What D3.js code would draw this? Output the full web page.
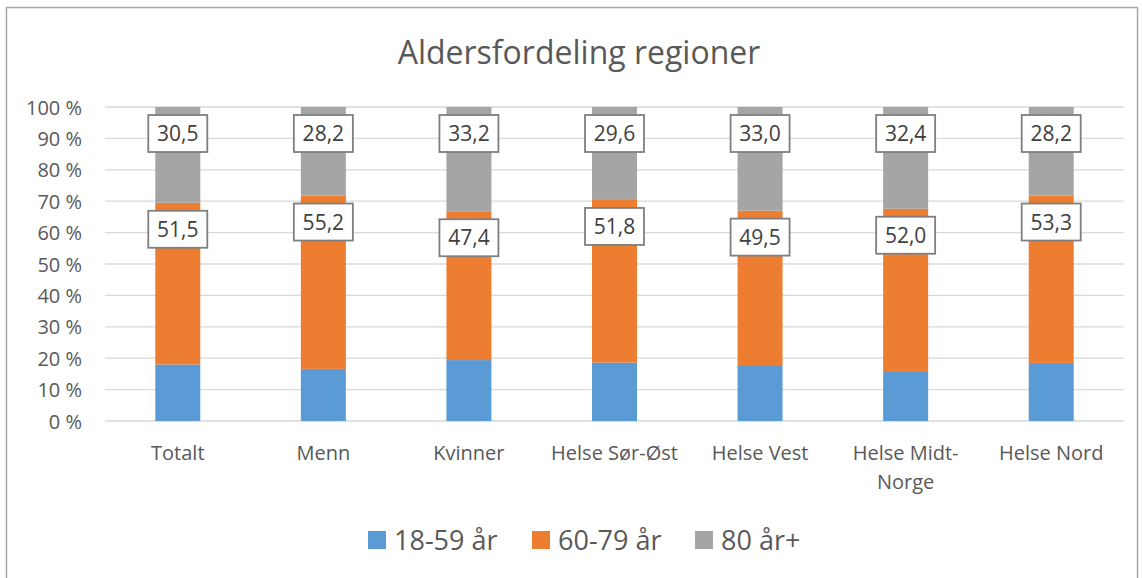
<!DOCTYPE html>
<html>
<head>
<meta charset="utf-8">
<script src="https://cdn.jsdelivr.net/npm/d3@7"></script>
<style>
  body { margin: 0; background: #fff; }
  text { font-family: "Open Sans", sans-serif; fill: #595959; }
</style>
</head>
<body>
<svg id="chart" width="1142" height="578"></svg>
<script>
// Aldersfordeling regioner - 100 % stablet søyle

var categories = ["Totalt", "Menn", "Kvinner", "Helse Sør-Øst", "Helse Vest", "Helse Midt-Norge", "Helse Nord"];
var seriesNames = ["18-59 år", "60-79 år", "80 år+"];
var young = [18.0, 16.6, 19.4, 18.6, 17.5, 15.6, 18.5];
var middle = [51.5, 55.2, 47.4, 51.8, 49.5, 52.0, 53.3];
var old = [30.5, 28.2, 33.2, 29.6, 33.0, 32.4, 28.2];
var yTicks = [0, 10, 20, 30, 40, 50, 60, 70, 80, 90, 100];
var colors = ["#5B9BD5", "#ED7D31", "#A5A5A5"];

var svg = d3.select("#chart");

// ramme
svg.append("rect")
  .attr("x", 6.5).attr("y", 7.5)
  .attr("width", 1131).attr("height", 600)
  .attr("fill", "none")
  .attr("stroke", "#a6a6a6")
  .attr("stroke-width", 1.5);

svg.append("text")
  .attr("x", 579).attr("y", 64)
  .attr("text-anchor", "middle")
  .style("font-size", "32px")
  .text("Aldersfordeling regioner");

var x = d3.scaleBand().domain(categories).range([105, 1124]);
var y = d3.scaleLinear().domain([0, 100]).range([421, 107]);
var barW = 45;

// rutenett
svg.append("g").selectAll("line")
  .data(yTicks)
  .enter().append("line")
  .attr("x1", 105).attr("x2", 1124)
  .attr("y1", function(d) { return y(d); })
  .attr("y2", function(d) { return y(d); })
  .attr("stroke", "#d9d9d9")
  .attr("stroke-width", 1.3);

// y-akse
var yAxis = svg.append("g")
  .attr("transform", "translate(88,0)")
  .call(d3.axisLeft(y).tickValues(yTicks).tickSize(0).tickPadding(6)
    .tickFormat(function(d) { return d + " %"; }));
yAxis.select(".domain").remove();
yAxis.selectAll("text").style("font-size", "20px").attr("fill", "#595959").attr("dy", "0.35em");

var table = categories.map(function(c, i) {
  return { cat: c, "18-59 år": young[i], "60-79 år": middle[i], "80 år+": old[i] };
});
var stacked = d3.stack().keys(seriesNames)(table);

var layers = svg.selectAll(".layer")
  .data(stacked)
  .enter().append("g")
  .attr("class", "layer")
  .attr("fill", function(d, i) { return colors[i]; });

layers.selectAll("rect")
  .data(function(d) { return d; })
  .enter().append("rect")
  .attr("x", function(d) { return x(d.data.cat) + x.bandwidth() / 2 - barW / 2; })
  .attr("width", barW)
  .attr("y", function(d) { return y(d[1]); })
  .attr("height", function(d) { return y(d[0]) - y(d[1]); });

// dataetiketter (innenfor ende) for 60-79 og 80+
[1, 2].forEach(function(si) {
  var g = svg.append("g");
  var lab = g.selectAll("g")
    .data(stacked[si])
    .enter().append("g")
    .attr("transform", function(d) {
      return "translate(" + (x(d.data.cat) + x.bandwidth() / 2) + "," + (y(d[1]) + 26.5) + ")";
    });
  lab.append("rect")
    .attr("x", -29.5).attr("y", -18.5)
    .attr("width", 59).attr("height", 37)
    .attr("fill", "#fff")
    .attr("stroke", "#7f7f7f")
    .attr("stroke-width", 1.8);
  lab.append("text")
    .attr("text-anchor", "middle")
    .attr("dy", "0.36em")
    .style("font-size", "21px")
    .style("fill", "#404040")
    .text(function(d) { return (d[1] - d[0]).toFixed(1).replace(".", ","); });
});

// x-etiketter
var xLabels = svg.append("g").selectAll("text")
  .data(categories)
  .enter().append("text")
  .attr("x", function(d) { return x(d) + x.bandwidth() / 2; })
  .attr("y", 460)
  .attr("text-anchor", "middle")
  .style("font-size", "20px");
xLabels.each(function(d) {
  var t = d3.select(this);
  if (d === "Helse Midt-Norge") {
    t.append("tspan").attr("x", t.attr("x")).text("Helse Midt-");
    t.append("tspan").attr("x", t.attr("x")).attr("dy", 29).text("Norge");
  } else {
    t.text(d);
  }
});

// forklaring
var legendX = [368, 532, 695];
var legend = svg.append("g").selectAll("g")
  .data(seriesNames)
  .enter().append("g")
  .attr("transform", function(d, i) { return "translate(" + legendX[i] + ",531)"; });
legend.append("rect")
  .attr("width", 18).attr("height", 18)
  .attr("fill", function(d, i) { return colors[i]; });
legend.append("text")
  .attr("x", 26).attr("y", 9)
  .attr("dy", "0.36em")
  .style("font-size", "27px")
  .text(function(d) { return d; });
</script>
</body>
</html>
